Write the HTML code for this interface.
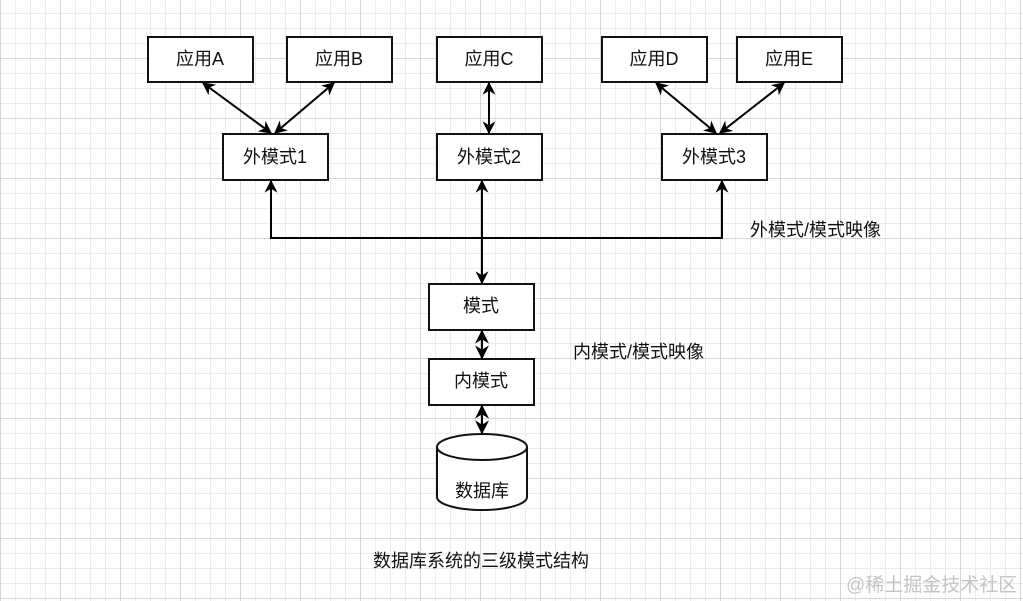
<!DOCTYPE html>
<html><head><meta charset="utf-8"><style>
html,body{margin:0;padding:0;width:1023px;height:601px;overflow:hidden;background:#fff}
body{background-image:
linear-gradient(to right,#d6d6d6 1px,transparent 1px),
linear-gradient(to bottom,#d6d6d6 1px,transparent 1px),
linear-gradient(to right,#ececec 1px,transparent 1px),
linear-gradient(to bottom,#ececec 1px,transparent 1px);
background-size:60px 60px,60px 60px,15px 15px,15px 15px;
background-position:0 -2px,0 -2px,0 -2px,0 -2px;}
svg{position:absolute;left:0;top:0}
text{font-family:"Liberation Sans","Noto Sans CJK SC",sans-serif;font-size:18px;fill:#111}
</style></head><body>
<svg width="1023" height="601" viewBox="0 0 1023 601">
<defs>
<marker id="a" viewBox="0 0 10 10" refX="9" refY="5" markerWidth="13" markerHeight="13" orient="auto-start-reverse" markerUnits="userSpaceOnUse">
<path d="M0,0 L10,5 L0,10 L3,5 z" fill="#000"/></marker>
<marker id="b" viewBox="0 0 10 10" refX="9" refY="5" markerWidth="14" markerHeight="14" orient="auto-start-reverse" markerUnits="userSpaceOnUse">
<path d="M0,0 L10,5 L0,10 L3,5 z" fill="#000"/></marker>
</defs>
<g fill="#fff" stroke="#111" stroke-width="2">
<rect x="148" y="37" width="105" height="45"/>
<rect x="287" y="37" width="105" height="45"/>
<rect x="437" y="37" width="105" height="45"/>
<rect x="602" y="37" width="105" height="45"/>
<rect x="737" y="37" width="105" height="45"/>
<rect x="223" y="134" width="105" height="46"/>
<rect x="437" y="134" width="105" height="46"/>
<rect x="662" y="134" width="105" height="46"/>
<rect x="429" y="284" width="105" height="46"/>
<rect x="429" y="359" width="105" height="46"/>
<path d="M437,447 L437,497 A45,13 0 0 0 527,497 L527,447 A45,13 0 0 0 437,447 A45,13 0 0 0 527,447"/>
</g>
<g stroke="#000" stroke-width="2" fill="none">
<line x1="203" y1="83" x2="271" y2="133" marker-start="url(#a)" marker-end="url(#a)"/>
<line x1="334" y1="83" x2="275" y2="133" marker-start="url(#a)" marker-end="url(#a)"/>
<line x1="489" y1="83" x2="489" y2="133" marker-start="url(#a)" marker-end="url(#a)"/>
<line x1="656" y1="83" x2="716" y2="133" marker-start="url(#a)" marker-end="url(#a)"/>
<line x1="784" y1="83" x2="720" y2="133" marker-start="url(#a)" marker-end="url(#a)"/>
<polyline points="271,181 271,238 722,238 722,181" marker-start="url(#a)" marker-end="url(#a)"/>
<line x1="482" y1="181" x2="482" y2="283" marker-start="url(#a)" marker-end="url(#a)"/>
<line x1="482" y1="331" x2="482" y2="358" marker-start="url(#b)" marker-end="url(#b)"/>
<line x1="482" y1="406" x2="482" y2="433" marker-start="url(#b)" marker-end="url(#b)"/>
</g>
<g text-anchor="middle">
<text x="200" y="65">应用A</text>
<text x="339" y="65">应用B</text>
<text x="489" y="65">应用C</text>
<text x="654" y="65">应用D</text>
<text x="789" y="65">应用E</text>
<text x="275" y="163">外模式1</text>
<text x="489" y="163">外模式2</text>
<text x="714" y="163">外模式3</text>
<text x="481" y="312">模式</text>
<text x="481" y="387">内模式</text>
<text x="482" y="497">数据库</text>
</g>
<text x="750" y="236">外模式/模式映像</text>
<text x="573" y="358">内模式/模式映像</text>
<text x="373" y="567">数据库系统的三级模式结构</text>
<text x="846" y="591" style="fill:#c4c4c4;font-size:19px">@稀土掘金技术社区</text>
</svg>
</body></html>
